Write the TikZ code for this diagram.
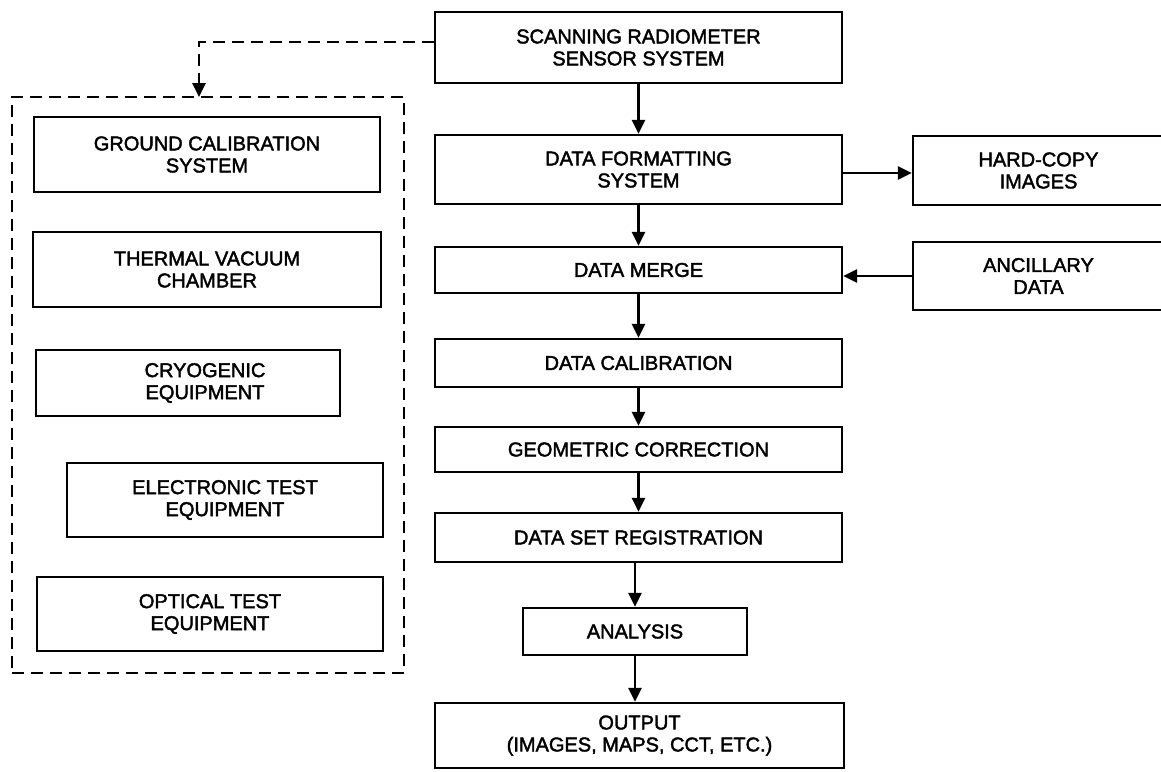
\documentclass[tikz,border=0pt]{standalone}
\usepackage{fontspec}
\setmainfont{Liberation Sans}[FakeBold=2]
\usetikzlibrary{arrows.meta}
\begin{document}
\begin{tikzpicture}[x=1pt,y=-1pt,
  box/.style={draw, line width=2.4pt, rectangle, align=center, inner sep=0pt,
    font=\fontsize{20}{22}\selectfont},
  txt/.style={align=center, inner sep=0pt, font=\fontsize{20}{22}\selectfont},
  group/.style={draw, line width=2.4pt, dash pattern=on 12pt off 7pt, inner sep=0pt},
  flow/.style={line width=2.8pt, -{Triangle[length=14pt,width=13pt]}},
  dflow/.style={flow, dash pattern=on 12pt off 7pt}]
\useasboundingbox[fill=white] (0,0) rectangle (1161,771);

% main processing chain
\node[box, minimum width=407, minimum height=71] (scan)  at (638.5,47.5) {SCANNING RADIOMETER\\SENSOR SYSTEM};
\node[box, minimum width=407, minimum height=69] (dfs)   at (638.5,169.5) {DATA FORMATTING\\SYSTEM};
\node[box, minimum width=407, minimum height=46] (merge) at (638.5,270) {DATA MERGE};
\node[box, minimum width=407, minimum height=48] (calib) at (638.5,363) {DATA CALIBRATION};
\node[box, minimum width=407, minimum height=45] (geo)   at (638.5,449.5) {GEOMETRIC CORRECTION};
\node[box, minimum width=407, minimum height=49] (reg)   at (638.5,537.5) {DATA SET REGISTRATION};
\node[box, minimum width=224, minimum height=47] (anal)  at (635,631.5) {ANALYSIS};
\node[box, minimum width=409, minimum height=65] (out)   at (639.5,735.5) {OUTPUT\\(IMAGES, MAPS, CCT, ETC.)};

% side products and inputs
\node[box, minimum width=251, minimum height=69] (hard) at (1038.5,170.5) {HARD-COPY\\IMAGES};
\node[box, minimum width=251, minimum height=68] (anc)  at (1038.5,276) {ANCILLARY\\DATA};

% ground support equipment
\node[group, minimum width=392, minimum height=576] (gse) at (208,385) {};
\node[box, minimum width=346, minimum height=75] (gcs)  at (207,154.5) {GROUND CALIBRATION\\SYSTEM};
\node[box, minimum width=348, minimum height=75] (tvc)  at (207,269.5) {THERMAL VACUUM\\CHAMBER};
\node[box, minimum width=304, minimum height=66] (cryo) at (188,383) {};
\node[txt] (cryot) at (205,383) {CRYOGENIC\\EQUIPMENT};
\node[box, minimum width=316, minimum height=74] (ete)  at (225,500) {ELECTRONIC TEST\\EQUIPMENT};
\node[box, minimum width=346, minimum height=74] (ote)  at (210,614) {OPTICAL TEST\\EQUIPMENT};

% connectors
\coordinate (gsetop) at (199,97);
\draw[dflow] ([yshift=5.5pt]scan.west) -| (gsetop);
\draw[flow] (scan.south) -- (dfs.north);
\draw[flow] (dfs.south) -- (merge.north);
\draw[flow] (merge.south) -- (calib.north);
\draw[flow] (calib.south) -- (geo.north);
\draw[flow] (geo.south) -- (reg.north);
\draw[flow] (reg.south -| anal.north) -- (anal.north);
\draw[flow] (anal.south) -- (anal.south |- out.north);
\draw[flow] ([yshift=-3.5pt]dfs.east) -- ([yshift=-3.5pt]dfs.east -| hard.west);
\draw[flow] (anc.west) -- (anc.west -| merge.east);
\end{tikzpicture}
\end{document}
